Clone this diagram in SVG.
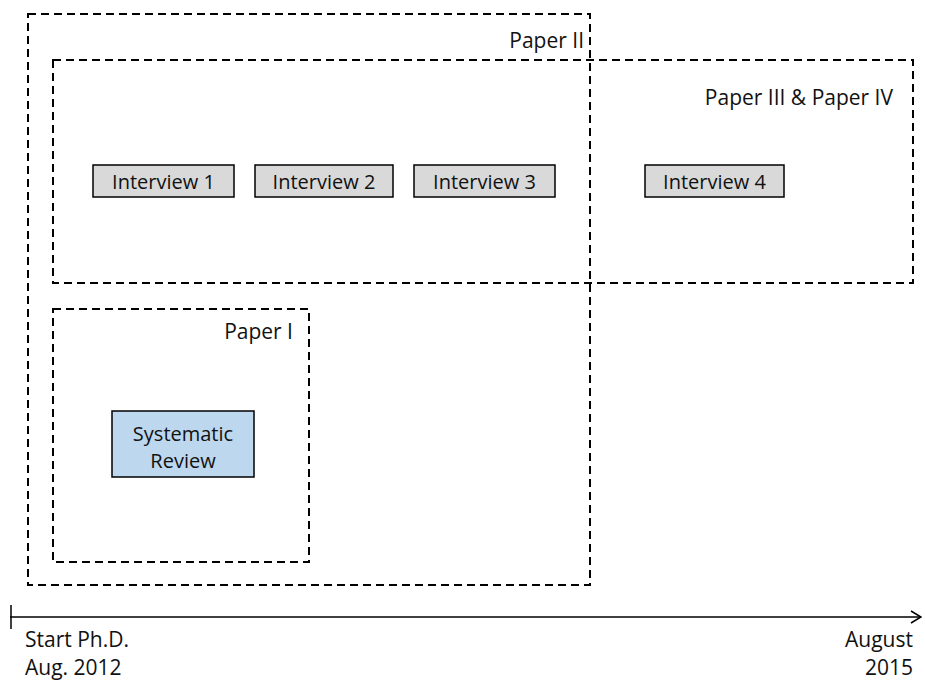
<svg xmlns="http://www.w3.org/2000/svg" width="925" height="680" viewBox="0 0 925 680">
<defs>
<style>
.grp{fill:none;stroke:#000;stroke-width:2;stroke-dasharray:8 5}
.box{fill:#d9d9d9;stroke:#000;stroke-width:1.5}
.sr{fill:#bdd7ee;stroke:#000;stroke-width:1.5}
text{font-family:"Open Sans","Liberation Sans",sans-serif;font-size:21px;fill:#111}
.b{font-size:20px}
.m{text-anchor:middle}
.e{text-anchor:end}
</style>
<marker id="arr" markerWidth="12" markerHeight="14" refX="11" refY="7" orient="auto" markerUnits="userSpaceOnUse">
<path d="M1,1 L11,7 L1,13" fill="none" stroke="#000" stroke-width="1.5"/>
</marker>
</defs>
<rect width="925" height="680" fill="#fff"/>
<g id="paper2"><rect class="grp" x="28" y="14" width="562" height="571"/><text class="e" x="584" y="48">Paper II</text></g>
<g id="paper34"><rect class="grp" x="53" y="60" width="860" height="223"/><text class="e" x="893" y="105">Paper III &amp; Paper IV</text></g>
<g id="paper1"><rect class="grp" x="53" y="309" width="256" height="253"/><text class="e" x="293" y="339">Paper I</text></g>
<g id="interview1"><rect class="box" x="93" y="165" width="141" height="32"/><text class="b m" x="163.5" y="189">Interview 1</text></g>
<g id="interview2"><rect class="box" x="255" y="165" width="138" height="32"/><text class="b m" x="324" y="189">Interview 2</text></g>
<g id="interview3"><rect class="box" x="414" y="165" width="141" height="32"/><text class="b m" x="484.5" y="189">Interview 3</text></g>
<g id="interview4"><rect class="box" x="645" y="165" width="139" height="32"/><text class="b m" x="714.5" y="189">Interview 4</text></g>
<g id="review"><rect class="sr" x="112" y="411" width="142" height="66"/><text class="b m" x="183" y="441">Systematic</text><text class="b m" x="183" y="468">Review</text></g>
<g id="timeline">
<line x1="10" y1="617" x2="921" y2="617" stroke="#000" stroke-width="1.5" marker-end="url(#arr)"/>
<line x1="11" y1="605" x2="11" y2="629" stroke="#000" stroke-width="1.5"/>
<text x="25" y="647">Start Ph.D.</text><text x="25" y="675">Aug. 2012</text>
<text class="e" x="913" y="647">August</text><text class="e" x="913" y="675">2015</text>
</g>
</svg>
